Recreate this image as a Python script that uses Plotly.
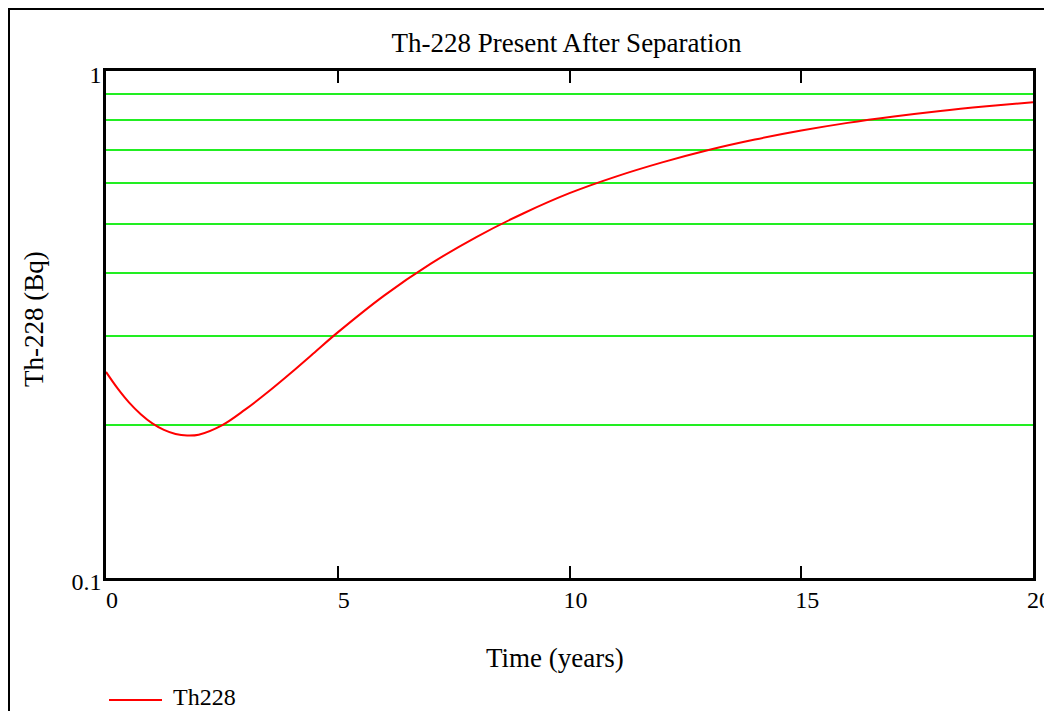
import plotly.graph_objects as go

# Data
time_years = [0, 0.25, 0.5, 0.75, 1, 1.25, 1.5, 1.75, 2, 2.5, 3, 3.5, 4, 4.5, 5, 6, 7, 8,
              9, 10, 11, 12, 13, 14, 15, 16, 17, 18, 19, 20]
th228_bq = [0.255, 0.2366, 0.2218, 0.2104, 0.2018, 0.1959, 0.1923, 0.1910, 0.1917,
            0.2000, 0.2148, 0.2330, 0.2543, 0.2786, 0.3051, 0.3606, 0.4164, 0.4710,
            0.5236, 0.5741, 0.6190, 0.6603, 0.6986, 0.7325, 0.7630, 0.7901, 0.8134,
            0.8341, 0.8519, 0.8680]

x_tick_vals = [0, 5, 10, 15, 20]
x_tick_text = ["0", "5", "10", "15", "20"]
y_tick_vals = [0.1, 0.2, 0.3, 0.4, 0.5, 0.6, 0.7, 0.8, 0.9, 1.0]
y_tick_text = ["0.1", "", "", "", "", "", "", "", "", "1"]

FONT = "Liberation Serif"

# page body margin offsets the figure by 8px; work in figure coordinates
OFF = 8
W, H = 1052 - OFF, 719 - 2 * OFF
L, R, T, B = 106 - OFF, 1033 - OFF, 71 - OFF, 578 - OFF
PW, PH = R - L, B - T


def px(x):
    return (x - OFF - L) / PW


def py(y):
    return (B - (y - OFF)) / PH


fig = go.Figure()
fig.add_trace(go.Scatter(
    x=time_years, y=th228_bq, mode="lines", name="Th228", showlegend=False,
    line=dict(color="#ff0000", width=2, shape="spline", smoothing=1),
))

fig.update_layout(
    width=W, height=H,
    margin=dict(l=L, r=W - R, t=T, b=H - B, autoexpand=False),
    paper_bgcolor="white", plot_bgcolor="white",
    font=dict(family=FONT, size=24, color="black"),
    title=dict(text="Th-228 Present After Separation",
               x=(566.5 - OFF) / W, xanchor="center",
               y=1 - (43 - OFF) / H, yanchor="middle",
               font=dict(family=FONT, size=27, color="black")),
    showlegend=False,
    xaxis=dict(
        range=[0, 20], tickmode="array", tickvals=x_tick_vals, ticktext=x_tick_text,
        ticks="inside", ticklen=12, tickwidth=2, tickcolor="black",
        showline=True, linecolor="black", linewidth=2.5, mirror="ticks",
        showgrid=False, zeroline=False, ticklabelshift=6, ticklabelstandoff=-2,
        automargin=False,
        tickfont=dict(family=FONT, size=24, color="black"),
    ),
    yaxis=dict(
        type="log", range=[-1, 0], tickmode="array", tickvals=y_tick_vals, ticktext=y_tick_text,
        ticks="", showline=True, linecolor="black", linewidth=2.5, mirror=True,
        showgrid=True, gridcolor="#22ee22", gridwidth=1.5, zeroline=False,
        ticklabelshift=4, ticklabelstandoff=-3, automargin=False,
        tickfont=dict(family=FONT, size=24, color="black"),
    ),
)

# axis titles
fig.add_annotation(text="Time (years)", xref="paper", yref="paper",
                   x=px(555), y=py(658), xanchor="center", yanchor="middle",
                   showarrow=False, font=dict(family=FONT, size=27, color="black"))
fig.add_annotation(text="Th-228 (Bq)", xref="paper", yref="paper", textangle=-90,
                   x=px(34), y=py(319), xanchor="center", yanchor="middle",
                   showarrow=False, font=dict(family=FONT, size=27, color="black"))

# legend: sample line + label
fig.add_shape(type="line", xref="paper", yref="paper",
              x0=px(109), x1=px(162), y0=py(700), y1=py(700),
              line=dict(color="#ff0000", width=2))
fig.add_annotation(text="Th228", xref="paper", yref="paper",
                   x=px(171), y=py(697), xanchor="left", yanchor="middle",
                   showarrow=False, font=dict(family=FONT, size=24, color="black"))

# Outer frame around the whole chart region
fig.add_shape(type="rect", xref="paper", yref="paper",
              x0=px(9), x1=px(1050), y0=py(740), y1=py(9),
              line=dict(color="black", width=2), fillcolor="rgba(0,0,0,0)", layer="below")

fig.write_html("out.html")
